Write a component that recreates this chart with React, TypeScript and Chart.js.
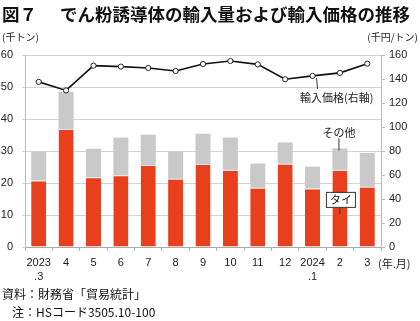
import React, { useEffect, useRef } from "react";
import { Chart, registerables } from "chart.js";
Chart.register(...registerables);

const months: (string | string[])[] = [["2023", ".3"], "4", "5", "6", "7", "8", "9", "10", "11", "12", ["2024", ".1"], "2", "3"];
const thai = [20.8, 36.9, 21.8, 22.4, 25.6, 21.3, 25.9, 24.1, 18.5, 26.0, 18.3, 24.1, 18.8];
const other = [8.9, 11.6, 8.9, 11.8, 9.5, 8.5, 9.5, 10.1, 7.6, 6.7, 6.8, 6.7, 10.6];
const price = [137.6, 130.5, 151.1, 150.3, 149.2, 146.7, 152.5, 155.0, 152.2, 139.8, 142.6, 145.1, 152.8];

const title1 = "図７";
const title2 = "でん粉誘導体の輸入量および輸入価格の推移";
const leftUnit = "(千トン)";
const rightUnit = "(千円/トン)";
const xUnit = "(年.月)";
const source = "資料：財務省「貿易統計」";
const note = "注：HSコード3505.10-100";
const priceLabel = "輸入価格(右軸)";
const otherLabel = "その他";
const thaiLabel = "タイ";

const JP = '"Noto Sans CJK JP", "Noto Sans", sans-serif';
const NUM = '"Liberation Sans", "Noto Sans CJK JP", sans-serif';

const textPlugin = {
  id: "texts",
  afterDraw(chart: any) {
    const ctx = chart.ctx as CanvasRenderingContext2D;
    const x = chart.scales.x;
    const y = chart.scales.y;
    const y2 = chart.scales.y2;
    ctx.save();
    ctx.fillStyle = "#111";
    ctx.textBaseline = "middle";
    ctx.textAlign = "left";
    ctx.font = `bold 17.5px ${JP}`;
    ctx.fillText(title1, 2, 14);
    ctx.fillText(title2, 60, 14);

    ctx.font = `10px ${JP}`;
    ctx.fillStyle = "#222";
    ctx.fillText(leftUnit, 2, 37);
    ctx.textAlign = "right";
    ctx.fillText(rightUnit, 418, 37);
    ctx.textAlign = "left";
    ctx.font = `11px ${JP}`;
    ctx.fillText(xUnit, 378, 264);

    ctx.font = `12px ${JP}`;
    ctx.fillStyle = "#111";
    ctx.fillText(source, 2, 294);
    ctx.fillText(note, 12, 312);

    // price annotation
    const px = x.getPixelForValue(10);
    ctx.strokeStyle = "#333";
    ctx.lineWidth = 1;
    ctx.beginPath();
    ctx.moveTo(px + 4, y2.getPixelForValue(price[10]) + 2);
    ctx.lineTo(px + 5, 89);
    ctx.stroke();
    ctx.font = `11px ${JP}`;
    ctx.fillStyle = "#222";
    ctx.fillText(priceLabel, 300, 98);

    // other annotation
    const ox = x.getPixelForValue(11);
    const otop = y.getPixelForValue(thai[11] + other[11]);
    ctx.beginPath();
    ctx.moveTo(ox - 1, otop - 10);
    ctx.lineTo(ox - 1, otop + 2);
    ctx.stroke();
    ctx.textAlign = "center";
    ctx.fillText(otherLabel, ox - 1, otop - 16);

    // thai annotation
    const ttop = y.getPixelForValue(thai[11]);
    const by = ttop + 30;
    ctx.beginPath();
    ctx.moveTo(ox, by + 8);
    ctx.lineTo(ox, by + 14);
    ctx.stroke();
    ctx.fillStyle = "#fff";
    ctx.fillRect(ox - 13, by - 7, 29, 15);
    ctx.strokeStyle = "#333";
    ctx.strokeRect(ox - 13.5, by - 7.5, 29, 15);
    ctx.fillStyle = "#111";
    ctx.fillText(thaiLabel, ox + 1, by);
    ctx.restore();
  },
};

export default function App() {
  const ref = useRef<HTMLCanvasElement>(null);
  useEffect(() => {
    if (!ref.current) return;
    const chart = new Chart(ref.current, {
      type: "bar",
      data: {
        labels: months as any,
        datasets: [
          {
            type: "line",
            label: priceLabel,
            data: price,
            yAxisID: "y2",
            borderColor: "#111",
            borderWidth: 1.6,
            pointRadius: 2.6,
            pointBackgroundColor: "#fff",
            pointBorderColor: "#222",
            pointBorderWidth: 1,
            tension: 0,
            order: 0,
          } as any,
          {
            label: thaiLabel,
            data: thai,
            yAxisID: "y",
            backgroundColor: "#E8401C",
            borderColor: "#cfe6ee",
            borderWidth: { top: 1, left: 0, right: 0, bottom: 0 },
            borderSkipped: false,
            stack: "s",
            order: 1,
            barPercentage: 0.55,
            categoryPercentage: 1,
          },
          {
            label: otherLabel,
            data: other,
            yAxisID: "y",
            backgroundColor: "#C9C9C9",
            borderWidth: 0,
            stack: "s",
            order: 2,
            barPercentage: 0.55,
            categoryPercentage: 1,
          },
        ],
      },
      options: {
        animation: false,
        responsive: false,
        devicePixelRatio: 1,
        layout: { padding: { top: 55, left: 0, right: 0, bottom: 0 } },
        plugins: { legend: { display: false }, tooltip: { enabled: false } },
        scales: {
          x: {
            stacked: true,
            offset: true,
            grid: { display: true, drawOnChartArea: false, offset: true, tickLength: 4, color: "#aaa" },
            border: { color: "#aaa" },
            ticks: { color: "#222", font: { family: NUM, size: 11, lineHeight: 1.3 }, padding: 5, maxRotation: 0, autoSkip: false },
            afterFit: (s: any) => { s.height = 74; },
          },
          y: {
            stacked: true,
            position: "left",
            min: 0,
            max: 60,
            ticks: { stepSize: 10, color: "#222", font: { family: NUM, size: 11 }, padding: 9 },
            grid: { color: "#d2d2d2", tickLength: 3, lineWidth: 1 },
            border: { color: "#bbb" },
            afterFit: (s: any) => { s.width = 25; },
          },
          y2: {
            position: "right",
            min: 0,
            max: 160,
            ticks: { stepSize: 20, color: "#222", font: { family: NUM, size: 11 }, padding: 4 },
            grid: { drawOnChartArea: false, tickLength: 4, color: "#bbb" },
            border: { color: "#bbb" },
            afterFit: (s: any) => { s.width = 39; },
          },
        },
      } as any,
      plugins: [textPlugin],
    });
    return () => chart.destroy();
  }, []);
  return (
    <div style={{ position: "fixed", left: 0, top: 0, width: 420, height: 321, background: "#fff" }}>
      <canvas ref={ref} width={420} height={321} style={{ display: "block" }} />
    </div>
  );
}
